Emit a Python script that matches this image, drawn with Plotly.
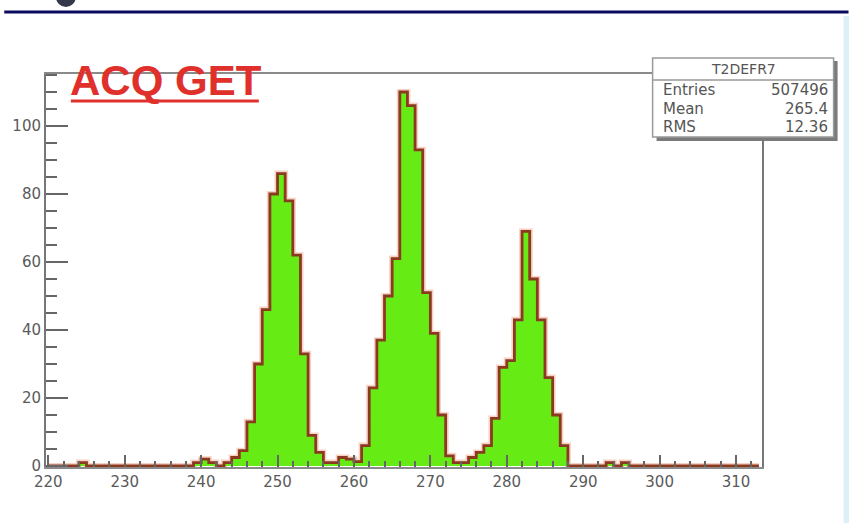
import plotly.graph_objects as go

# ---------------- data ----------------
bin_edges = list(range(220, 314))          # 93 bins of width 1
counts = [
    0, 0, 0, 0, 1, 0, 0, 0, 0, 0,          # 220-229
    0, 0, 0, 0, 0, 0, 0, 0, 0, 1,          # 230-239
    2, 1, 0, 1, 2.5, 4.5, 13, 30, 46, 80,  # 240-249
    86, 78, 62, 33, 9, 4, 1, 1, 2.5, 2,    # 250-259
    1.3, 6, 23, 37, 50, 61, 110, 106, 93, 51,  # 260-269
    39, 15, 3, 1, 1, 2.5, 4, 6, 14, 29,    # 270-279
    31, 43, 69, 55, 43, 26, 15, 6, 0, 0,   # 280-289
    0, 0, 0, 1, 0, 1, 0, 0, 0, 0,          # 290-299
    0, 0, 0, 0, 0, 0, 0, 0, 0, 0,          # 300-309
    0, 0, 0,                               # 310-312
]
x_tick_vals = [220, 230, 240, 250, 260, 270, 280, 290, 300, 310]
y_tick_vals = [0, 20, 40, 60, 80, 100]
title_text = "ACQ GET"
stats_title = "T2DEFR7"
stats_labels = ["Entries", "Mean", "RMS"]
stats_values = ["507496", "265.4", "12.36"]

# ---------------- layout helpers ----------------
W, H = 849, 523
L, R, T, B = 42, 762, 74, 467


def px(x):
    return (x - L) / (R - L)


def py(y):
    return (B - y) / (B - T)


step_y = counts + [counts[-1]]

fig = go.Figure()
# soft halo (mimics the blurred outline of the reference)
fig.add_trace(go.Scatter(
    x=bin_edges, y=step_y, mode="lines", line_shape="hv",
    line=dict(color="rgba(240,150,125,0.45)", width=6),
    hoverinfo="skip", showlegend=False))
fig.add_trace(go.Scatter(
    x=bin_edges, y=step_y, mode="lines", line_shape="hv",
    fill="tozeroy", fillcolor="#66ec14",
    line=dict(color="#8a3a1e", width=2.8),
    showlegend=False))

tick_font = dict(family="DejaVu Sans", size=15, color="#5a5a5a")

fig.update_xaxes(
    range=[219.7, 313.4], tickvals=x_tick_vals,
    ticks="inside", ticklen=12, tickwidth=1.5, tickcolor="#666666",
    minor=dict(dtick=2, tick0=220, ticks="inside", ticklen=6,
               tickwidth=1.5, tickcolor="#666666"),
    showline=True, linecolor="#8a8a8a", linewidth=2, mirror=True,
    showgrid=False, zeroline=False, tickfont=tick_font)
fig.update_yaxes(
    range=[-0.3, 115.3], tickvals=y_tick_vals,
    ticks="inside", ticklen=22, tickwidth=1.5, tickcolor="#666666",
    minor=dict(dtick=5, tick0=0, ticks="inside", ticklen=11,
               tickwidth=1.5, tickcolor="#666666"),
    showline=True, linecolor="#777777", linewidth=2, mirror=True,
    showgrid=False, zeroline=False, tickfont=tick_font)

shapes = []
# top navy band line
shapes.append(dict(type="line", xref="paper", yref="paper",
                   x0=px(0), x1=px(W), y0=py(12), y1=py(12),
                   line=dict(color="#0b0b5e", width=3)))
# partial logo at top-left
shapes.append(dict(type="circle", xref="paper", yref="paper",
                   x0=px(52), x1=px(72), y0=py(-13), y1=py(7),
                   fillcolor="#33384a", line=dict(width=0)))
# light cyan strip at right edge
shapes.append(dict(type="rect", xref="paper", yref="paper",
                   x0=px(844), x1=px(W + 2), y0=py(16), y1=py(H + 2),
                   fillcolor="#dcf0f6", line=dict(width=0)))
# title underline
shapes.append(dict(type="line", xref="paper", yref="paper",
                   x0=px(67), x1=px(256), y0=py(101), y1=py(101),
                   line=dict(color="#e0302c", width=3)))
# stats box shadow + box
shapes.append(dict(type="rect", xref="paper", yref="paper",
                   x0=px(656), x1=px(838), y0=py(141), y1=py(61),
                   fillcolor="#7a7a7a", line=dict(width=0)))
shapes.append(dict(type="rect", xref="paper", yref="paper",
                   x0=px(652), x1=px(834), y0=py(137), y1=py(58),
                   fillcolor="white", line=dict(color="#999999", width=1.5)))
shapes.append(dict(type="line", xref="paper", yref="paper",
                   x0=px(652), x1=px(834), y0=py(80), y1=py(80),
                   line=dict(color="#999999", width=1.5)))

annotations = []
annotations.append(dict(
    text="<b>" + title_text + "</b>", xref="paper", yref="paper",
    x=px(64), y=py(80), xanchor="left", yanchor="middle", showarrow=False,
    font=dict(family="Liberation Sans", size=42, color="#e0302c")))
annotations.append(dict(
    text=stats_title, xref="paper", yref="paper",
    x=px(743), y=py(69), xanchor="center", yanchor="middle", showarrow=False,
    font=dict(family="DejaVu Sans", size=14, color="#555555")))
row_y = [90, 108.5, 127]
for lab, val, yy in zip(stats_labels, stats_values, row_y):
    annotations.append(dict(
        text=lab, xref="paper", yref="paper", x=px(660), y=py(yy),
        xanchor="left", yanchor="middle", showarrow=False,
        font=dict(family="DejaVu Sans", size=15, color="#555555")))
    annotations.append(dict(
        text=val, xref="paper", yref="paper", x=px(830), y=py(yy),
        xanchor="right", yanchor="middle", showarrow=False,
        font=dict(family="DejaVu Sans", size=15, color="#555555")))

fig.update_layout(
    width=W, height=H, autosize=False,
    margin=dict(l=L, r=W - R, t=T, b=H - B, pad=0),
    paper_bgcolor="white", plot_bgcolor="white",
    shapes=shapes, annotations=annotations, showlegend=False)

fig.write_html("out.html")
